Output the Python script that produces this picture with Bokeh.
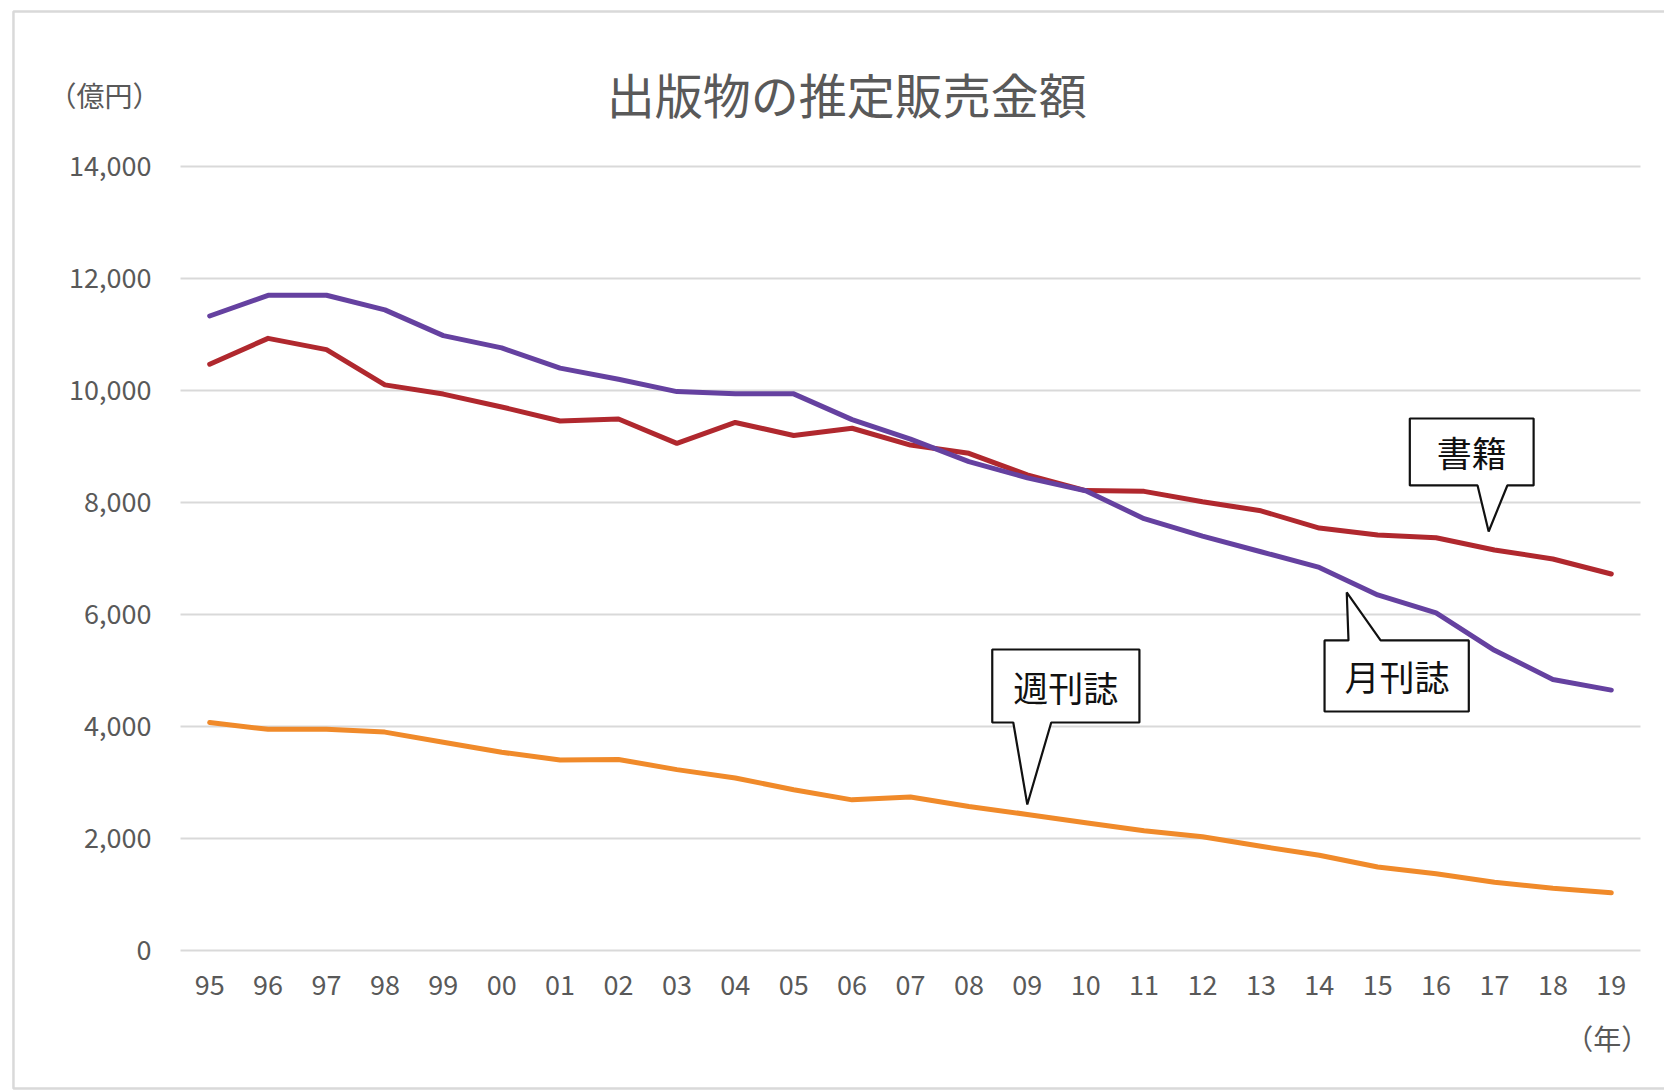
from bokeh.plotting import figure
from bokeh.models import Range1d, FixedTicker, NumeralTickFormatter, Label, PolyAnnotation
from bokeh.embed import file_html
from bokeh.resources import INLINE

# ---- data (億円) ----
years = ["95", "96", "97", "98", "99", "00", "01", "02", "03", "04", "05", "06",
         "07", "08", "09", "10", "11", "12", "13", "14", "15", "16", "17", "18", "19"]
books = [10470, 10931, 10730, 10100, 9936, 9706, 9456, 9490, 9056, 9429, 9197, 9326,
         9026, 8878, 8492, 8213, 8199, 8013, 7851, 7544, 7419, 7370, 7152, 6991, 6723]
monthly = [11330, 11700, 11700, 11440, 10980, 10760, 10400, 10200, 9980, 9940, 9940, 9480,
           9130, 8730, 8440, 8210, 7710, 7400, 7120, 6840, 6350, 6030, 5360, 4840, 4650]
weekly = [4070, 3950, 3950, 3900, 3720, 3540, 3400, 3410, 3230, 3080, 2870, 2690,
          2740, 2570, 2430, 2280, 2140, 2030, 1860, 1700, 1490, 1370, 1220, 1110, 1030]
y_ticks = [0, 2000, 4000, 6000, 8000, 10000, 12000, 14000]

title_text = "出版物の推定販売金額"
y_unit = "（億円）"
x_unit = "（年）"

JP = "Noto Sans CJK JP"
GRAY = "#595959"

xs = list(range(len(years)))

# frame covers the whole canvas; axes are pinned with fixed_location
p = figure(width=1664, height=1091,
           x_range=Range1d(-3.582, 24.911), y_range=Range1d(-2518, 16964),
           output_backend="svg", toolbar_location=None,
           min_border_left=0, min_border_right=0, min_border_top=0, min_border_bottom=0)
p.background_fill_color = "white"
p.border_fill_color = "white"
p.outline_line_color = None

# axes
p.xaxis.ticker = FixedTicker(ticks=xs)
p.xaxis.major_label_overrides = {i: y for i, y in enumerate(years)}
p.xaxis.fixed_location = 0
p.yaxis.ticker = FixedTicker(ticks=y_ticks)
p.yaxis.formatter = NumeralTickFormatter(format="0,0")
p.yaxis.fixed_location = -0.5
for ax in (p.xaxis, p.yaxis):
    ax.axis_line_color = None
    ax.major_tick_line_color = None
    ax.minor_tick_line_color = None
    ax.major_tick_out = 0
    ax.major_tick_in = 0
    ax.major_label_text_font = JP
    ax.major_label_text_font_size = "27px"
    ax.major_label_text_color = GRAY
p.yaxis.major_label_standoff = 29
p.xaxis.major_label_standoff = 25

p.xgrid.grid_line_color = None
grid = p.ygrid[0]
if "cross_bounds" in grid.properties():
    grid.ticker = FixedTicker(ticks=y_ticks)
    grid.cross_bounds = (-0.5, len(years) - 0.5)
    grid.grid_line_color = "#d9d9d9"
    grid.grid_line_width = 2
else:
    grid.grid_line_color = None
    p.segment(x0=[-0.5] * len(y_ticks), x1=[len(years) - 0.5] * len(y_ticks),
              y0=y_ticks, y1=y_ticks, line_color="#d9d9d9", line_width=2)

# outer chart border
p.add_layout(PolyAnnotation(xs=[25.5, -3.36, -3.36, 25.5], ys=[16768, 16768, -2464, -2464],
                            fill_alpha=0, line_color="#d9d9d9", line_alpha=1, line_width=2.5))

# series
p.line(xs, books, line_color="#B0282E", line_width=5, line_join="round", line_cap="round")
p.line(xs, monthly, line_color="#6541A0", line_width=5, line_join="round", line_cap="round")
p.line(xs, weekly, line_color="#F08A2A", line_width=5, line_join="round", line_cap="round")

# callouts
def callout(poly_x, poly_y, text, cx, cy):
    p.add_layout(PolyAnnotation(xs=poly_x, ys=poly_y, fill_color="white", fill_alpha=1,
                                line_color="#111111", line_alpha=1, line_width=2.2))
    p.add_layout(Label(x=cx, y=cy, text=text, text_align="center", text_baseline="middle",
                       text_font=JP, text_font_size="35px", text_color="#111111"))

callout([20.55, 22.67, 22.67, 22.22, 21.9, 21.71, 20.55],
        [9500, 9500, 8304, 8304, 7482, 8304, 8304], "書籍", 21.61, 8902)
callout([19.09, 19.5, 19.47, 20.05, 21.56, 21.56, 19.09],
        [5536, 5536, 6393, 5536, 5536, 4268, 4268], "月刊誌", 20.33, 4902)
callout([13.40, 15.92, 15.92, 14.41, 14.0, 13.76, 13.40],
        [5375, 5375, 4071, 4071, 2607, 4071, 4071], "週刊誌", 14.66, 4723)

# title and unit labels
p.add_layout(Label(x=10.91, y=15321, text=title_text, text_align="center", text_baseline="middle",
                   text_font=JP, text_font_size="48px", text_color=GRAY))
p.add_layout(Label(x=-1.80, y=15268, text=y_unit, text_align="center", text_baseline="middle",
                   text_font=JP, text_font_size="28px", text_color=GRAY))
p.add_layout(Label(x=23.93, y=-1571, text=x_unit, text_align="center", text_baseline="middle",
                   text_font=JP, text_font_size="28px", text_color=GRAY))

open("out.html", "w").write(file_html(p, INLINE))
